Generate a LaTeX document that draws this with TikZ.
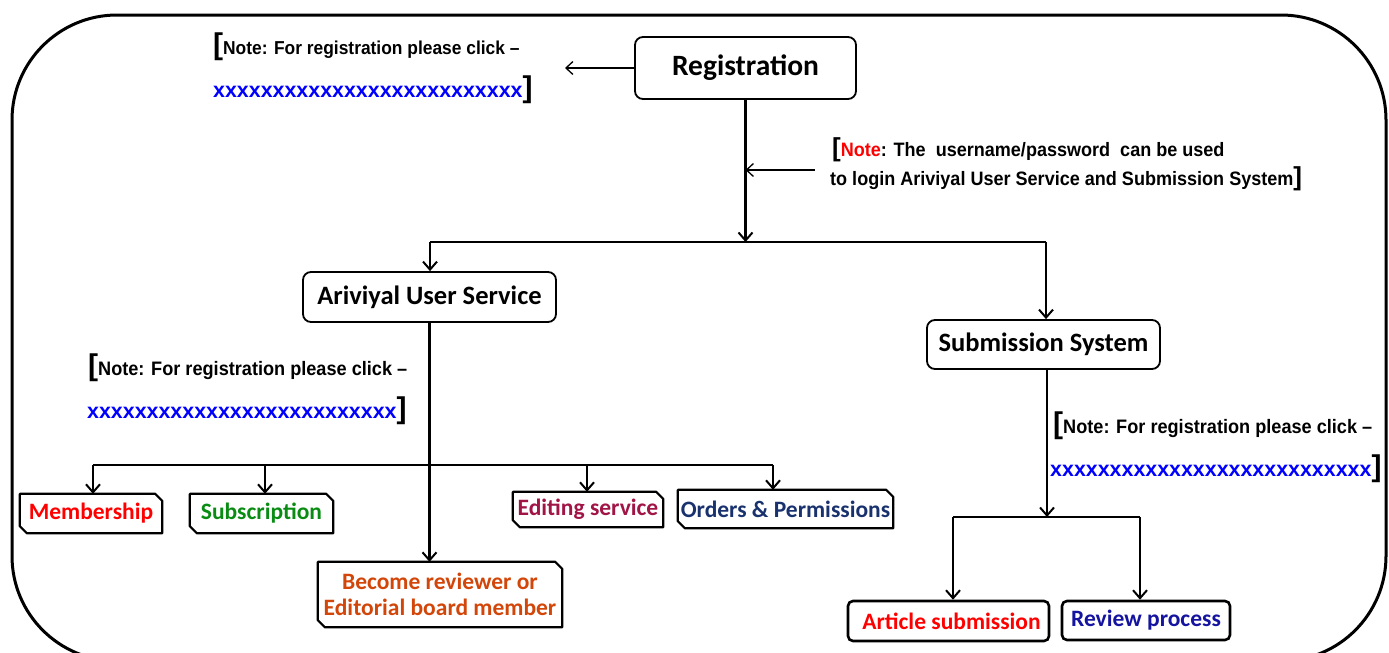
\documentclass[tikz,border=0pt]{standalone}
\usepackage{fontspec}
\setmainfont{Carlito}
\newfontfamily\notefont{Liberation Sans}[FakeStretch=0.93]
\newfontfamily\xfont{Liberation Sans}
\usetikzlibrary{arrows.meta}
\definecolor{memred}{RGB}{255,0,0}
\definecolor{subgreen}{RGB}{10,140,20}
\definecolor{editred}{RGB}{160,20,70}
\definecolor{ordblue}{RGB}{25,50,110}
\definecolor{revorange}{RGB}{210,70,10}
\definecolor{revblue}{RGB}{20,20,160}
\definecolor{linkblue}{RGB}{0,0,255}
\newcommand\chamf[1]{\draw[line width=2.2pt,line join=round] (#1.north west) -- ([xshift=-7pt]#1.north east) -- ([yshift=-7pt]#1.north east) -- (#1.south east) -- ([xshift=7pt]#1.south west) -- ([yshift=7pt]#1.south west) -- cycle;}
\newcommand\brk{\xfont\bfseries\fontsize{30}{30}\selectfont}
\newcommand\xs[1]{{\xfont\bfseries\color{linkblue}\fontsize{21.4}{24}\selectfont #1}}
\begin{document}
\begin{tikzpicture}[x=1pt,y=-1pt,
  mainbox/.style={draw,line width=1.8pt,rounded corners=8pt,fill=white,inner sep=0pt,align=center,font=\bfseries},
  smallbox/.style={inner sep=0pt,align=center,font=\bfseries\fontsize{23.5}{26}\selectfont},
  roundsmall/.style={draw,line width=2.6pt,rounded corners=5pt,inner sep=0pt,align=center,font=\bfseries\fontsize{23.5}{26}\selectfont},
  notetext/.style={anchor=base west,inner sep=0pt,font=\notefont\bfseries},
  arr/.style={line width=2.2pt,-{Straight Barb[length=8pt,width=14pt,line width=2pt]}},
  thinarr/.style={line width=1.5pt,-{Straight Barb[length=7pt,width=13pt,line width=1.3pt]}},
  conn/.style={line width=2.2pt}]
\useasboundingbox (0,0) rectangle (1389,653);
% outer frame
\draw[line width=3pt,rounded corners=105pt] (12,15) rectangle (1386,661);

% main boxes
\node[mainbox,minimum width=221pt,minimum height=62pt,font=\bfseries\fontsize{29.5}{32}\selectfont] (reg) at (745.5,68) {Registration};
\node[mainbox,minimum width=253pt,minimum height=50pt,font=\bfseries\fontsize{26.5}{30}\selectfont] (aus) at (429.5,297) {Ariviyal User Service};
\node[mainbox,minimum width=233pt,minimum height=49pt,font=\bfseries\fontsize{26.5}{30}\selectfont] (sub) at (1043.5,344.5) {Submission System};

% chamfered boxes
\node[smallbox,minimum width=142pt,minimum height=39pt,text=memred] (mem) at (91,513.5) {Membership};
\node[smallbox,minimum width=143pt,minimum height=39pt,text=subgreen] (subs) at (261.5,513.5) {Subscription};
\node[smallbox,minimum width=150pt,minimum height=35pt,text=editred] (edit) at (588,509.5) {Editing service};
\node[smallbox,minimum width=215pt,minimum height=38pt,text=ordblue] (ord) at (785.5,509) {Orders \& Permissions};
\node[smallbox,minimum width=244pt,minimum height=65pt,text=revorange] (bec) at (440,594.5) {Become reviewer or\\Editorial board member};
\chamf{mem}\chamf{subs}\chamf{edit}\chamf{ord}\chamf{bec}

% rounded small boxes
\node[roundsmall,minimum width=201pt,minimum height=40pt,text=memred] (art) at (948.5,621) {\hspace*{6pt}Article submission};
\node[roundsmall,minimum width=168pt,minimum height=39pt,text=revblue] (rev) at (1146,620.5) {Review process};

% notes
\node[notetext] (n1a) at (213,54) {\brk[\notefont\fontsize{18.7}{20}\selectfont Note: For registration please click –};
\node[notetext] (n1b) at (213,97) {\xs{xxxxxxxxxxxxxxxxxxxxxxxxxx}\brk]};

\node[notetext] (n2a) at (832,156) {\xfont\fontsize{26}{26}\selectfont[\notefont\fontsize{19.4}{20}\selectfont{\color{memred}Note}: The\ \ username/password\ \ can be used};
\node[notetext] (n2b) at (830,185) {\fontsize{19.4}{20}\selectfont to login Ariviyal User Service and Submission System\xfont\fontsize{26}{26}\selectfont]};

\node[notetext] (n3a) at (88,375) {\brk[\notefont\fontsize{19.5}{20}\selectfont Note: For registration please click –};
\node[notetext] (n3b) at (87,418) {\xs{xxxxxxxxxxxxxxxxxxxxxxxxxx}\brk]};

\node[notetext] (n4a) at (1053,433) {\brk[\notefont\fontsize{19.5}{20}\selectfont Note: For registration please click –};
\node[notetext] (n4b) at (1050,476) {\xs{xxxxxxxxxxxxxxxxxxxxxxxxxxx}\brk]};

% coordinates
\coordinate (tipA) at (565,68);
\coordinate (nB) at (815,170);
\coordinate (jA) at (745.5,242);
\coordinate (jL) at (430,242);
\coordinate (jR) at (1046,242);
\coordinate (hL) at (93,465);
\coordinate (hS) at (265,465);
\coordinate (hE) at (587,465);
\coordinate (hR) at (773,465);
\coordinate (sj) at (1047,517);
\coordinate (sL) at (953,517);
\coordinate (sR) at (1140,517);

% connectors
\draw[thinarr] (reg.west) -- (tipA);
\draw[arr] (reg.south) -- (jA);
\draw[thinarr] (nB) -- (nB -| reg.south);
\draw[conn] (jL) -- (jR);
\draw[arr] (jL) -- (jL |- aus.north);
\draw[arr] (jR) -- (jR |- sub.north);

\draw[arr] (aus.south) -- (aus.south |- bec.north);
\draw[conn] (hL) -- (hR);
\draw[arr] (hL) -- (hL |- mem.north);
\draw[arr] (hS) -- (hS |- subs.north);
\draw[arr] (hE) -- (hE |- edit.north);
\draw[arr] (hR) -- (hR |- ord.north);

\draw[arr] (sub.south -| sj) -- (sj);
\draw[conn] (sL) -- (sR);
\draw[arr] (sL) -- (sL |- art.north);
\draw[arr] (sR) -- (sR |- rev.north);
\end{tikzpicture}
\end{document}
